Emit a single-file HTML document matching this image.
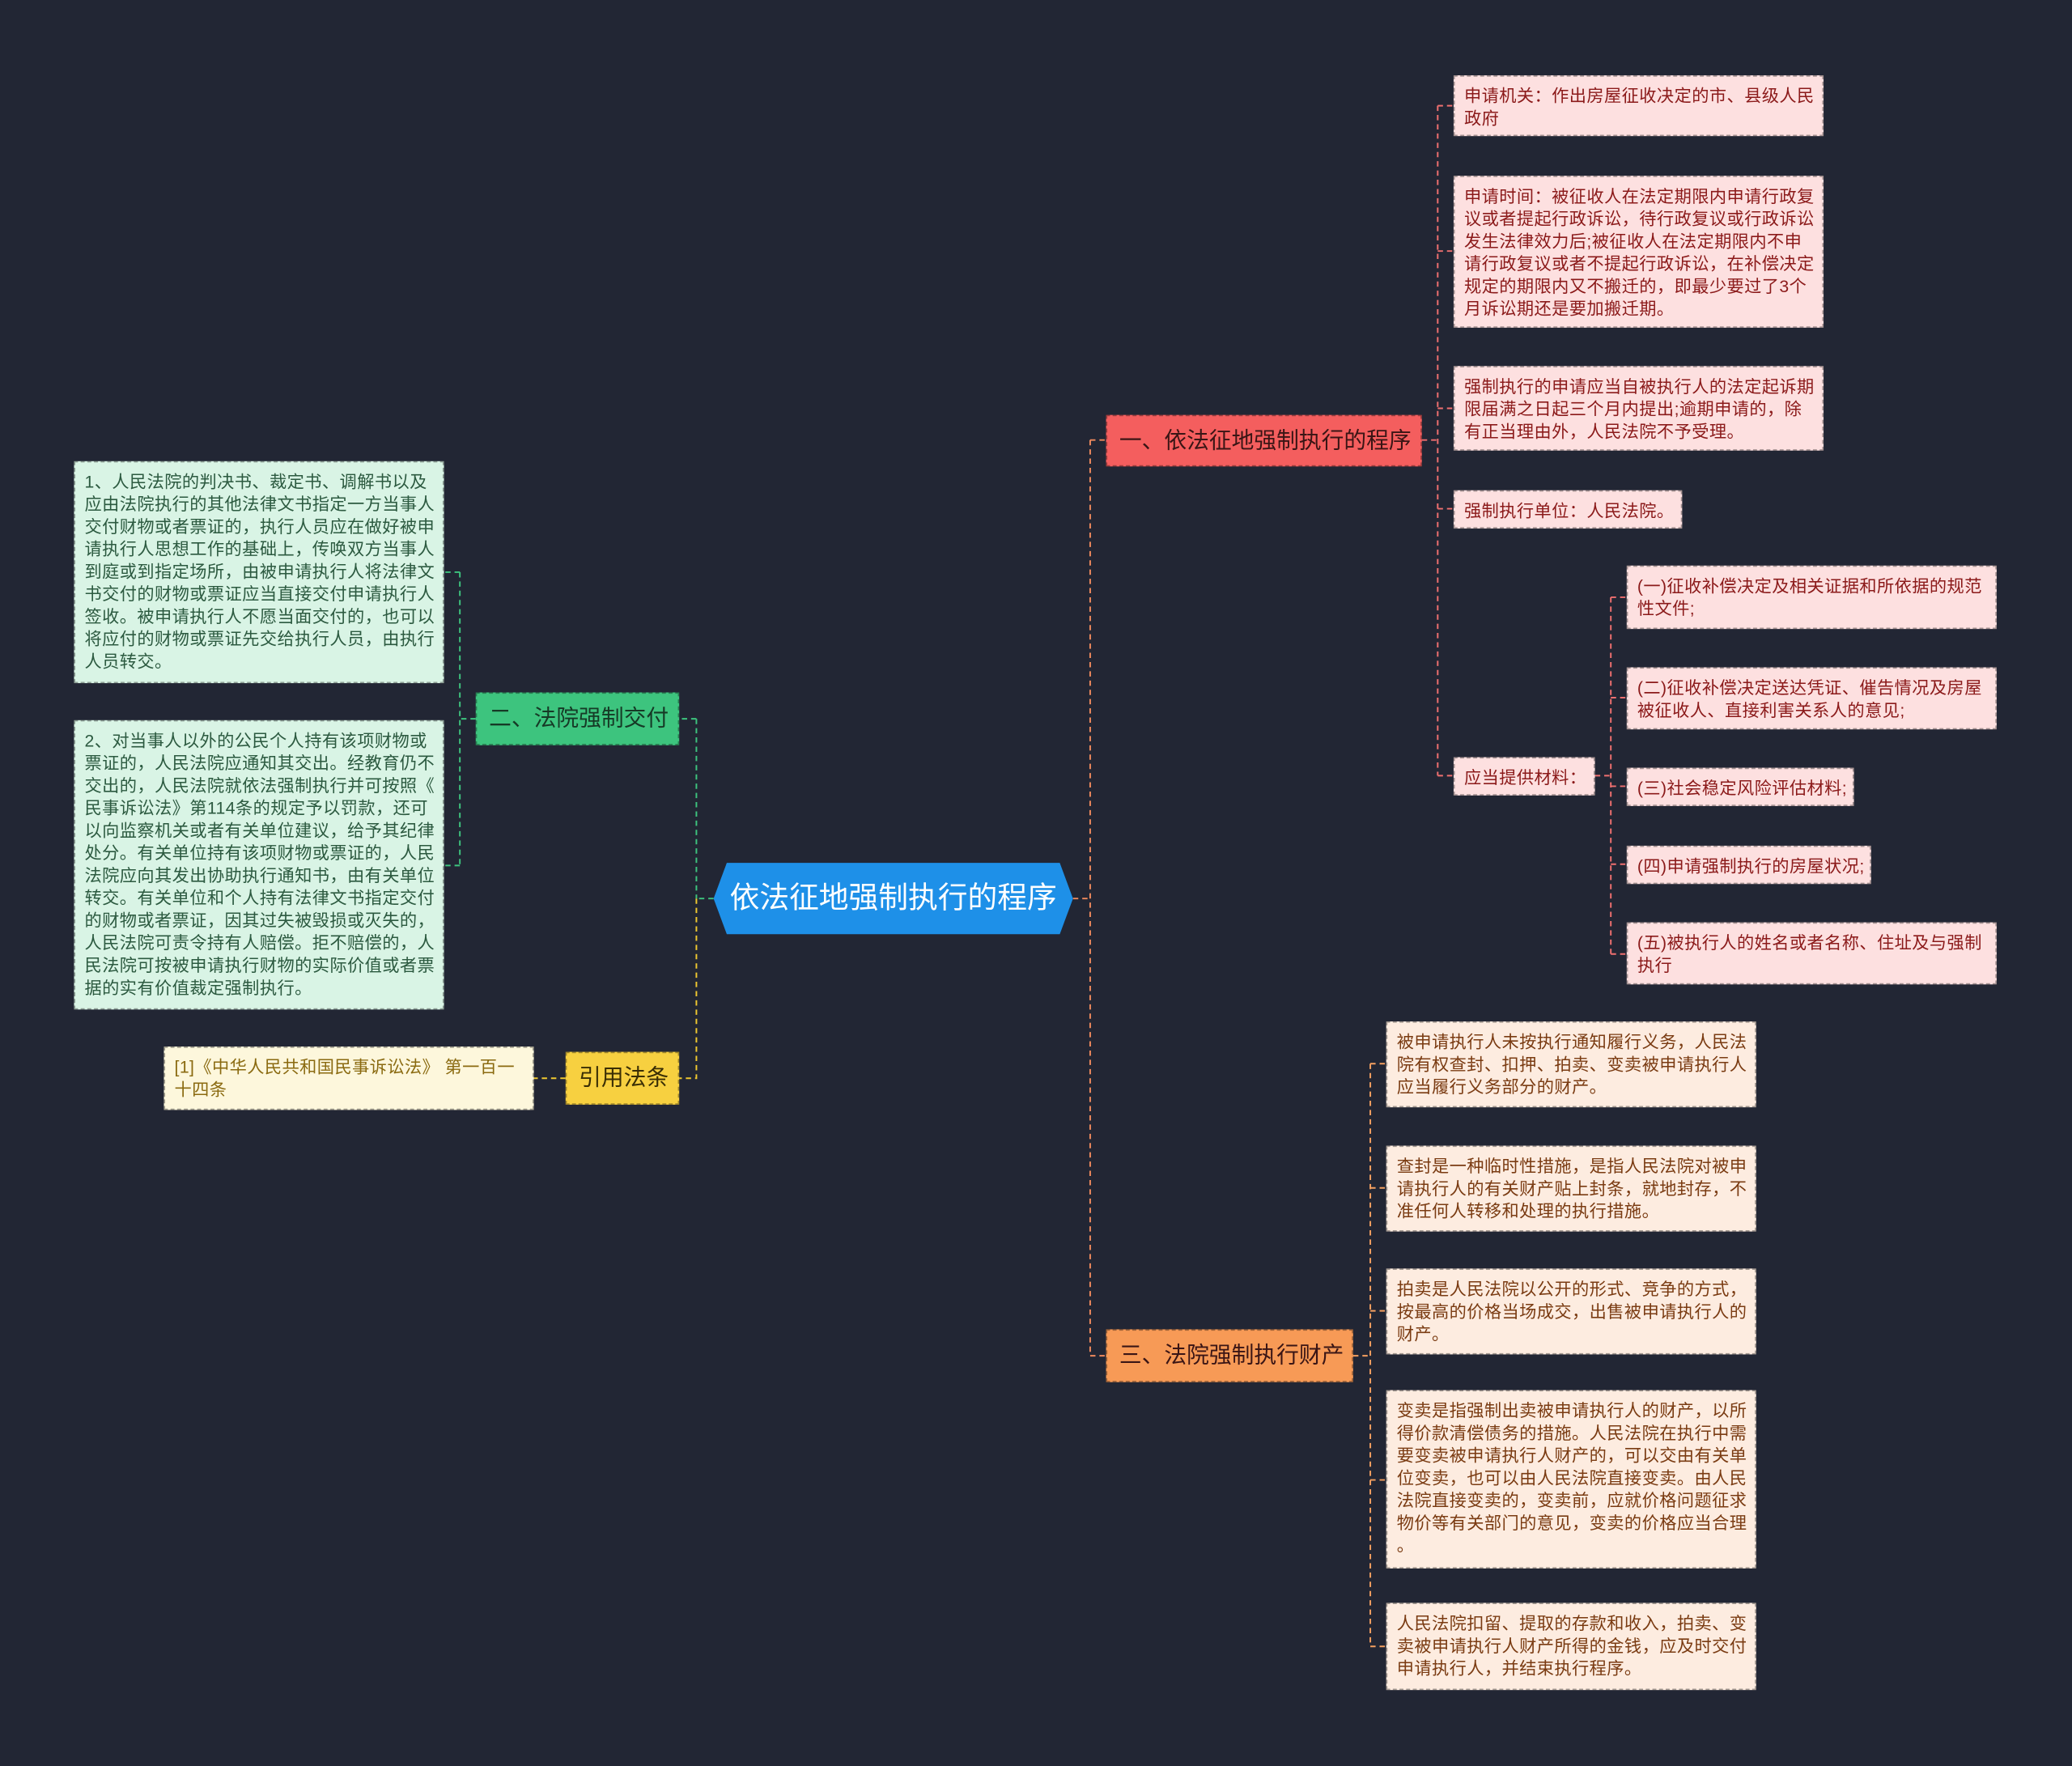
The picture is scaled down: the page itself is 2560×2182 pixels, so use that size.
<!DOCTYPE html>
<html><head><meta charset="utf-8"><style>
html,body{margin:0;padding:0;background:#222634;width:2560px;height:2182px;overflow:hidden}
#c{position:absolute;left:0;top:0;width:1568px;height:1336px;transform:scale(1.63265);transform-origin:0 0;font-family:"Liberation Sans","Noto Sans CJK SC",sans-serif}
.n{position:absolute;box-sizing:border-box;font-size:13px;line-height:17px;padding:6px 7px;border:1px dashed rgba(0,0,0,.35);white-space:nowrap;letter-spacing:0.25px}
.p{background:#fde0e0;color:#8b1a1a}
.o{background:#fdece0;color:#7a3b12}
.g{background:#d9f4e5;color:#2c5a40}
.y{background:#fdf7dc;color:#8a6a10}
.b{font-size:17px;line-height:22px;padding:8px 9px;color:#3a1515;letter-spacing:0}
svg{position:absolute;left:0;top:0}
</style></head><body><div id="c">
<svg width="1568" height="1336" fill="none" stroke-dasharray="4 3" stroke-width="1.2">
<g stroke="#f08a5d"><path d="M812 680H825M825 333V1026M825 333H837M825 1026H837"/></g>
<g stroke="#f07070"><path d="M1076 333H1088M1088 80V587M1088 80H1100M1088 190H1100M1088 309H1100M1088 385H1100M1088 587H1100M1207 587H1219M1219 452V722M1219 452H1231M1219 528H1231M1219 595H1231M1219 654H1231M1219 722H1231"/></g>
<g stroke="#f5a060"><path d="M1024 1026H1037M1037 805V1246M1037 805H1049M1037 899H1049M1037 992H1049M1037 1120H1049M1037 1246H1049"/></g>
<g stroke="#3dc47e"><path d="M540 680H527M527 544V680M527 544H514M360 544H348M348 433V655M348 433H336M348 655H336"/></g>
<g stroke="#f0c830"><path d="M527 680V816H514M428 816H404"/></g>
</svg>
<svg width="1568" height="1336"><polygon points="540,680 550,653 802,653 812,680 802,707 550,707" fill="#1e90e8"/></svg>
<div style="position:absolute;left:540px;top:653px;width:272px;height:54px;line-height:54px;text-align:center;color:#fff;font-size:22.5px">依法征地强制执行的程序</div>

<div class="n b" style="left:837px;top:314px;width:239px;height:39px;background:#f45e5e">一、依法征地强制执行的程序</div>
<div class="n p" style="left:1100px;top:57px;width:280px;height:46px">申请机关：作出房屋征收决定的市、县级人民<br>政府</div>
<div class="n p" style="left:1100px;top:133px;width:280px;height:115px">申请时间：被征收人在法定期限内申请行政复<br>议或者提起行政诉讼，待行政复议或行政诉讼<br>发生法律效力后;被征收人在法定期限内不申<br>请行政复议或者不提起行政诉讼，在补偿决定<br>规定的期限内又不搬迁的，即最少要过了3个<br>月诉讼期还是要加搬迁期。</div>
<div class="n p" style="left:1100px;top:277px;width:280px;height:64px">强制执行的申请应当自被执行人的法定起诉期<br>限届满之日起三个月内提出;逾期申请的，除<br>有正当理由外，人民法院不予受理。</div>
<div class="n p" style="left:1100px;top:371px;width:173px;height:29px">强制执行单位：人民法院。</div>
<div class="n p" style="left:1100px;top:573px;width:107px;height:29px">应当提供材料：</div>
<div class="n p" style="left:1231px;top:428px;width:280px;height:48px">(一)征收补偿决定及相关证据和所依据的规范<br>性文件;</div>
<div class="n p" style="left:1231px;top:505px;width:280px;height:47px">(二)征收补偿决定送达凭证、催告情况及房屋<br>被征收人、直接利害关系人的意见;</div>
<div class="n p" style="left:1231px;top:581px;width:172px;height:29px">(三)社会稳定风险评估材料;</div>
<div class="n p" style="left:1231px;top:640px;width:185px;height:29px">(四)申请强制执行的房屋状况;</div>
<div class="n p" style="left:1231px;top:698px;width:280px;height:47px">(五)被执行人的姓名或者名称、住址及与强制<br>执行</div>

<div class="n b" style="left:837px;top:1006px;width:187px;height:40px;background:#f79a56">三、法院强制执行财产</div>
<div class="n o" style="left:1049px;top:773px;width:280px;height:65px">被申请执行人未按执行通知履行义务，人民法<br>院有权查封、扣押、拍卖、变卖被申请执行人<br>应当履行义务部分的财产。</div>
<div class="n o" style="left:1049px;top:867px;width:280px;height:65px">查封是一种临时性措施，是指人民法院对被申<br>请执行人的有关财产贴上封条，就地封存，不<br>准任何人转移和处理的执行措施。</div>
<div class="n o" style="left:1049px;top:960px;width:280px;height:65px">拍卖是人民法院以公开的形式、竞争的方式，<br>按最高的价格当场成交，出售被申请执行人的<br>财产。</div>
<div class="n o" style="left:1049px;top:1052px;width:280px;height:135px">变卖是指强制出卖被申请执行人的财产，以所<br>得价款清偿债务的措施。人民法院在执行中需<br>要变卖被申请执行人财产的，可以交由有关单<br>位变卖，也可以由人民法院直接变卖。由人民<br>法院直接变卖的，变卖前，应就价格问题征求<br>物价等有关部门的意见，变卖的价格应当合理<br>。</div>
<div class="n o" style="left:1049px;top:1213px;width:280px;height:66px">人民法院扣留、提取的存款和收入，拍卖、变<br>卖被申请执行人财产所得的金钱，应及时交付<br>申请执行人，并结束执行程序。</div>

<div class="n b" style="left:360px;top:524px;width:154px;height:40px;background:#3dc47e;color:#163a26">二、法院强制交付</div>
<div class="n g" style="left:56px;top:349px;width:280px;height:168px">1、人民法院的判决书、裁定书、调解书以及<br>应由法院执行的其他法律文书指定一方当事人<br>交付财物或者票证的，执行人员应在做好被申<br>请执行人思想工作的基础上，传唤双方当事人<br>到庭或到指定场所，由被申请执行人将法律文<br>书交付的财物或票证应当直接交付申请执行人<br>签收。被申请执行人不愿当面交付的，也可以<br>将应付的财物或票证先交给执行人员，由执行<br>人员转交。</div>
<div class="n g" style="left:56px;top:545px;width:280px;height:219px">2、对当事人以外的公民个人持有该项财物或<br>票证的，人民法院应通知其交出。经教育仍不<br>交出的，人民法院就依法强制执行并可按照《<br>民事诉讼法》第114条的规定予以罚款，还可<br>以向监察机关或者有关单位建议，给予其纪律<br>处分。有关单位持有该项财物或票证的，人民<br>法院应向其发出协助执行通知书，由有关单位<br>转交。有关单位和个人持有法律文书指定交付<br>的财物或者票证，因其过失被毁损或灭失的，<br>人民法院可责令持有人赔偿。拒不赔偿的，人<br>民法院可按被申请执行财物的实际价值或者票<br>据的实有价值裁定强制执行。</div>

<div class="n b" style="left:428px;top:796px;width:86px;height:40px;background:#f7d040;color:#3a2e05">引用法条</div>
<div class="n y" style="left:124px;top:792px;width:280px;height:48px">[1]《中华人民共和国民事诉讼法》 第一百一<br>十四条</div>
</div></body></html>
